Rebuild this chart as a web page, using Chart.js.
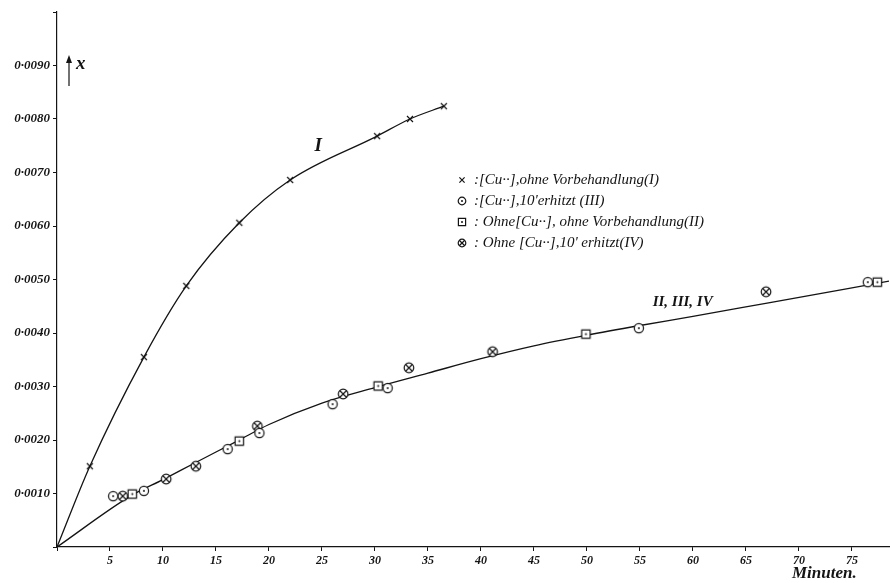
<!DOCTYPE html>
<html>
<head>
<meta charset="utf-8">
<script src="https://cdn.jsdelivr.net/npm/chart.js@4.4.0/dist/chart.umd.min.js"></script>
<style>
  html, body { margin: 0; padding: 0; background: #fff; overflow: hidden; }
  #wrap { width: 890px; height: 583px; overflow: hidden; }
</style>
</head>
<body>
<div id="wrap"><canvas id="chart" width="895" height="583"></canvas></div>
<script>
// axis ticks (Minuten / x)
const xTickValues = [0, 5, 10, 15, 20, 25, 30, 35, 40, 45, 50, 55, 60, 65, 70, 75];
const xTickLabels = ['', '5', '10', '15', '20', '25', '30', '35', '40', '45', '50', '55', '60', '65', '70', '75'];
const yTickLabels = ['', '0·0010', '0·0020', '0·0030', '0·0040', '0·0050', '0·0060', '0·0070', '0·0080', '0·0090', ''];

// I: [Cu··], ohne Vorbehandlung
const timeI = [3.1, 8.2, 12.2, 17.2, 22.0, 30.2, 33.3, 36.5];
const valI = [0.00151, 0.00355, 0.00488, 0.00606, 0.00686, 0.00768, 0.00800, 0.00824];

// III: [Cu··], 10' erhitzt
const timeIII = [5.3, 8.2, 16.1, 19.1, 26.0, 31.2, 54.9, 76.5];
const valIII = [0.00095, 0.00105, 0.00183, 0.00213, 0.00267, 0.00297, 0.00409, 0.00495];

// II: Ohne [Cu··], ohne Vorbehandlung
const timeII = [7.1, 17.2, 30.3, 49.9, 77.4];
const valII = [0.00099, 0.00198, 0.00301, 0.00398, 0.00495];

// IV: Ohne [Cu··], 10' erhitzt
const timeIV = [6.2, 10.3, 13.1, 18.9, 27.0, 33.2, 41.1, 66.9];
const valIV = [0.00095, 0.00127, 0.00151, 0.00226, 0.00286, 0.00335, 0.00365, 0.00477];

// drawn curves
const curveITime = [0, 3.1, 8.2, 12.2, 17.2, 22.0, 30.2, 33.3, 36.5];
const curveIVal = [0, 0.00151, 0.00355, 0.00488, 0.00606, 0.00686, 0.00768, 0.00800, 0.00824];
const curveIITime = [0, 7, 10, 13, 17, 20, 25, 30, 35, 40, 45, 50, 55, 60, 67, 78.5];
const curveIIVal = [0, 0.00096, 0.00126, 0.00157, 0.00198, 0.00229, 0.00269, 0.00298, 0.00325, 0.00352, 0.00376, 0.00396, 0.00414, 0.00431, 0.00456, 0.00497];

const legendLabels = [
  ':[Cu··],ohne Vorbehandlung(I)',
  ':[Cu··],10\'erhitzt (III)',
  ': Ohne[Cu··], ohne Vorbehandlung(II)',
  ': Ohne [Cu··],10\' erhitzt(IV)'
];

const ink = '#141414';
const serif = '"Liberation Serif", "DejaVu Serif", serif';

function drawMarker(g, type, r) {
  g.strokeStyle = ink;
  g.lineWidth = 1.2;
  g.beginPath();
  if (type === 'cross') {
    g.moveTo(-r, -r); g.lineTo(r, r);
    g.moveTo(r, -r); g.lineTo(-r, r);
    g.stroke();
    return;
  }
  if (type === 'square') g.rect(-r, -r, 2 * r, 2 * r);
  else g.arc(0, 0, r, 0, Math.PI * 2);
  g.fillStyle = '#fff';
  g.fill();
  g.stroke();
  if (type === 'otimes') {
    const k = r * 0.72;
    g.beginPath();
    g.moveTo(-k, -k); g.lineTo(k, k);
    g.moveTo(k, -k); g.lineTo(-k, k);
    g.stroke();
  } else {
    g.beginPath();
    g.arc(0, 0, 1, 0, Math.PI * 2);
    g.fillStyle = ink;
    g.fill();
  }
}

function makeMarker(type, r) {
  const s = Math.ceil(2 * r + 4);
  const c = document.createElement('canvas');
  c.width = s; c.height = s;
  const g = c.getContext('2d');
  g.translate(s / 2, s / 2);
  drawMarker(g, type, r);
  return c;
}

const pts = (xs, ys) => xs.map((t, i) => ({ x: t, y: ys[i] }));

const markerSet = (label, xs, ys, style) => ({
  label, data: pts(xs, ys), showLine: false,
  pointStyle: style, pointRadius: 5, borderColor: ink, backgroundColor: ink
});

const curveSet = (xs, ys) => ({
  data: pts(xs, ys), pointRadius: 0, borderColor: ink, borderWidth: 1.3,
  cubicInterpolationMode: 'monotone', fill: false
});

const annotate = {
  id: 'annotate',
  afterDraw(chart) {
    const { ctx, scales: { x, y } } = chart;
    ctx.save();
    ctx.fillStyle = ink;
    ctx.strokeStyle = ink;
    ctx.textBaseline = 'middle';

    // curve names
    ctx.font = 'italic bold 19px ' + serif;
    ctx.fillText('I', x.getPixelForValue(24.3), y.getPixelForValue(0.0075));
    ctx.font = 'italic bold 15px ' + serif;
    ctx.fillText('II, III, IV', x.getPixelForValue(56.2), y.getPixelForValue(0.00458));

    // ↑ x
    const ax = 69;
    ctx.lineWidth = 1.2;
    ctx.beginPath();
    ctx.moveTo(ax, 86); ctx.lineTo(ax, 58);
    ctx.stroke();
    ctx.beginPath();
    ctx.moveTo(ax, 55); ctx.lineTo(ax - 3, 63); ctx.lineTo(ax + 3, 63);
    ctx.closePath(); ctx.fill();
    ctx.font = 'italic bold 19px ' + serif;
    ctx.fillText('x', 76, 64);

    // axis title
    ctx.font = 'italic bold 17px ' + serif;
    ctx.fillText('Minuten.', 792, 574);

    // legend
    const styles = ['cross', 'odot', 'square', 'otimes'];
    const sizes = [2.6, 3.8, 3.6, 3.8];
    ctx.font = 'italic 15px ' + serif;
    legendLabels.forEach((txt, i) => {
      const yy = 180 + i * 21;
      ctx.save();
      ctx.translate(462, yy);
      drawMarker(ctx, styles[i], sizes[i]);
      ctx.restore();
      ctx.fillStyle = ink;
      ctx.fillText(txt, 474, yy);
    });
    ctx.restore();
  }
};

new Chart(document.getElementById('chart'), {
  type: 'line',
  data: {
    datasets: [
      markerSet('I', timeI, valI, makeMarker('cross', 3)),
      markerSet('III', timeIII, valIII, makeMarker('odot', 4.6)),
      markerSet('II', timeII, valII, makeMarker('square', 4.2)),
      markerSet('IV', timeIV, valIV, makeMarker('otimes', 4.8)),
      curveSet(curveITime, curveIVal),
      curveSet(curveIITime, curveIIVal)
    ]
  },
  options: {
    responsive: false,
    animation: false,
    events: [],
    layout: { padding: { top: 12, left: 0, right: 0, bottom: 0 } },
    plugins: { legend: { display: false }, tooltip: { enabled: false } },
    scales: {
      x: {
        type: 'linear', min: 0, max: 78.5,
        afterBuildTicks: (s) => { s.ticks = xTickValues.map(v => ({ value: v })); },
        afterFit: (s) => { s.height = 36; },
        grid: { drawOnChartArea: false, tickLength: 4, color: ink },
        border: { color: ink, width: 1.2 },
        ticks: {
          padding: 3, color: ink,
          font: { family: serif, style: 'italic', weight: 'bold', size: 12 },
          callback: (v, i) => xTickLabels[i]
        }
      },
      y: {
        type: 'linear', min: 0, max: 0.01,
        afterBuildTicks: (s) => { s.ticks = yTickLabels.map((_, i) => ({ value: i * 0.001 })); },
        afterFit: (s) => { s.width = 57; },
        grid: { drawOnChartArea: false, tickLength: 4, color: ink },
        border: { color: ink, width: 1.2 },
        ticks: {
          padding: 3, color: ink,
          font: { family: serif, style: 'italic', weight: 'bold', size: 13 },
          callback: (v, i) => yTickLabels[i]
        }
      }
    }
  },
  plugins: [annotate]
});
</script>
</body>
</html>
